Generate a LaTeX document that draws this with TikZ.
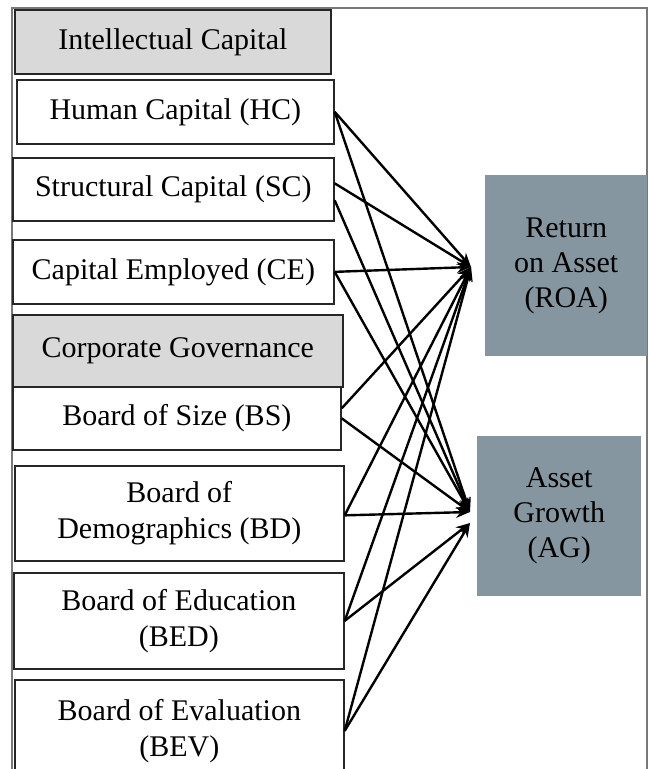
\documentclass[tikz,border=0pt]{standalone}
\usepackage{fontspec}
\setmainfont{Liberation Serif}
\usepackage{tikz}
\usetikzlibrary{arrows.meta}
\definecolor{headgrey}{RGB}{217,217,217}
\definecolor{outblue}{RGB}{133,150,160}
\definecolor{framegrey}{RGB}{120,120,120}

\begin{document}
\begin{tikzpicture}[x=1pt,y=-1pt,>={Stealth[length=14pt,width=11pt]},
        box/.style={rectangle,anchor=north west,draw=black!85,line width=1.7pt,inner sep=0pt,align=center,
          font=\fontsize{30}{36}\selectfont},
        head/.style={box,fill=headgrey},
        outcome/.style={rectangle,anchor=north west,fill=outblue,inner sep=0pt,align=center,
          font=\fontsize{30}{35}\selectfont},
        link/.style={draw,->,line width=2.4pt,black}]
        \useasboundingbox (0,0) rectangle (649,769);
        \draw[framegrey,line width=1.8pt] (12,775) -- (12,8) -- (647,8) -- (647,775);
        % left column
        \node[head,minimum width=316pt,minimum height=64pt] (ic) at (14,9) {Intellectual Capital};
        \node[box,minimum width=317pt,minimum height=64pt] (hc) at (16,79) {Human Capital (HC)};
        \node[box,minimum width=321pt,minimum height=63pt] (sc) at (12,157) {Structural Capital (SC)};
        \node[box,minimum width=321pt,minimum height=64pt] (ce) at (12,239) {Capital Employed (CE)};
        \node[head,minimum width=330pt,minimum height=72pt] (cg) at (12,314) {Corporate Governance};
        \node[box,minimum width=328pt,minimum height=63pt] (bs) at (12,386) {Board of Size (BS)};
        \node[box,minimum width=329pt,minimum height=95pt] (bd) at (14,465) {Board of\\Demographics (BD)};
        \node[box,minimum width=330pt,minimum height=96pt] (bed) at (13,572) {Board of Education\\(BED)};
        \node[box,minimum width=329pt,minimum height=102pt] (bev) at (14,679) {Board of Evaluation\\(BEV)};
        % right column
        \node[outcome,minimum width=162pt,minimum height=181pt] (roa) at (485,175) {Return\\on Asset\\(ROA)};
        \node[outcome,minimum width=164pt,minimum height=160pt] (ag) at (477,436) {Asset\\Growth\\(AG)};
        \coordinate (roaIn) at (471,267);
        \coordinate (agIn) at (470,512);
        \coordinate (agLow) at (470,523);
        \path[every edge/.style={link}]
          (hc.east) edge (roaIn)
          (hc.east) edge (agIn)
          ([yshift=6pt]sc.east) edge (roaIn)
          ([yshift=-11pt]sc.east) edge (agIn)
          (ce.east) edge (roaIn)
          (ce.east) edge (agIn)
          ([yshift=10pt]bs.east) edge (roaIn)
          (bs.east) edge (agIn)
          ([yshift=-2pt]bd.east) edge (roaIn)
          ([yshift=-2pt]bd.east) edge (agIn)
          (bed.east) edge (roaIn)
          (bed.east) edge (agLow)
          (bev.east) edge (roaIn)
          (bev.east) edge (agLow)
          ;
      \end{tikzpicture}
\end{document}
